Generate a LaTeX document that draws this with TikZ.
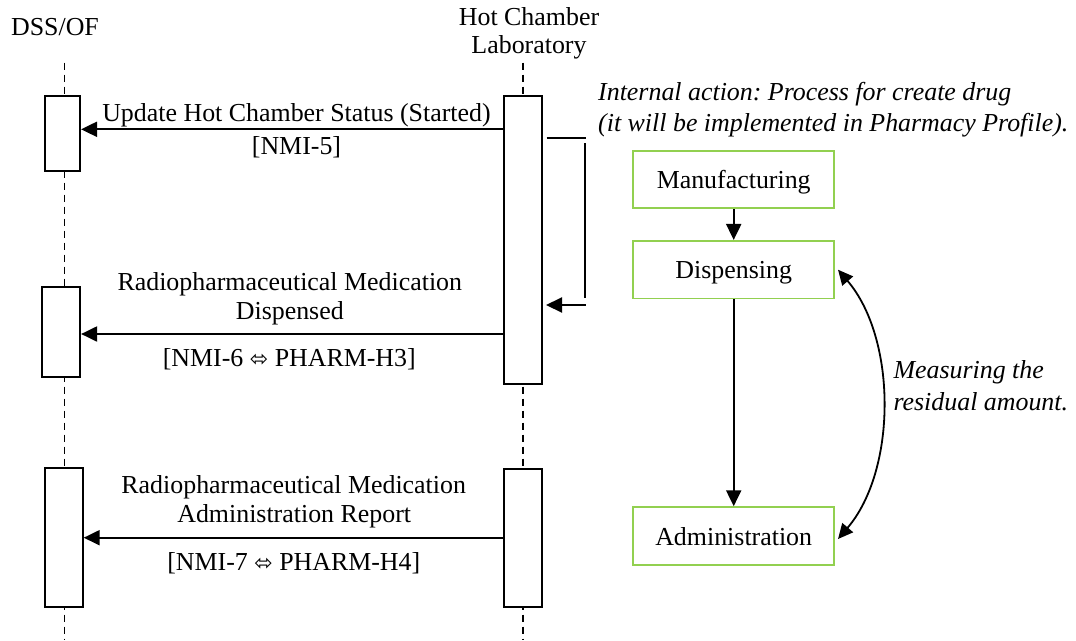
\documentclass[tikz,border=0pt]{standalone}
\usepackage{fontspec}
\setmainfont{Liberation Serif}
\newfontfamily\arrowfont{DejaVu Sans}
\usetikzlibrary{arrows.meta}
\definecolor{flowgreen}{RGB}{146,208,80}
\newcommand{\eqvarrow}{{\arrowfont\fontsize{22}{26}\selectfont ⬄}}
\frenchspacing
\begin{document}
\begin{tikzpicture}[x=1pt,y=-1pt,
  every node/.style={font=\fontsize{25.9}{30}\selectfont, inner sep=0pt},
  txt/.style={anchor=base},
  ntxt/.style={anchor=base west, font=\itshape\fontsize{25.9}{30}\selectfont},
  act/.style={draw, line width=2.1pt, fill=white},
  lifeline/.style={dash pattern=on 7pt off 5pt, line width=1.6pt},
  msg/.style={line width=2.1pt, -{Triangle[length=16pt,width=15pt]}},
  plain/.style={line width=2.1pt},
  flow/.style={draw=flowgreen, line width=1.9pt, minimum width=200.7pt,
    minimum height=57.6pt, text height=18pt, text depth=0pt}]
\useasboundingbox (0,0) rectangle (1076,640);

% lifelines (drawn first, the activation bars cover them)
\coordinate (lt) at (64.3,62.7);  \coordinate (lb) at (64.3,640);
\coordinate (rt) at (522.7,62.7); \coordinate (rb) at (522.7,640);
\draw[lifeline] (lt) -- (lb);
\draw[lifeline] (rt) -- (rb);

% participants
\node[txt] (dss) at (55,35) {DSS/OF};
\node[txt] (hcl1) at (529,25) {Hot Chamber};
\node[txt] (hcl2) at (529,53) {Laboratory};

% activation bars
\node[act, minimum width=35pt, minimum height=75pt]      (a1) at (62.5,133.5) {};
\node[act, minimum width=37.7pt, minimum height=90pt]    (a2) at (61.2,331.7) {};
\node[act, minimum width=37.7pt, minimum height=139.3pt] (a3) at (63.8,537.4) {};
\node[act, minimum width=37.7pt, minimum height=288.6pt] (b1) at (522.8,240) {};
\node[act, minimum width=37.7pt, minimum height=137.4pt] (b3) at (522.8,538) {};

% messages
\coordinate (m1) at (0,129.3);
\coordinate (m2) at (0,334);
\coordinate (m3) at (0,537.7);
\draw[msg] (b1.west |- m1) -- (a1.east |- m1);
\draw[msg] (b1.west |- m2) -- (a2.east |- m2);
\draw[msg] (b3.west |- m3) -- (a3.east |- m3);

\node[txt] (t1a) at (296.5,121) {Update Hot Chamber Status (Started)};
\node[txt] (t1b) at (296.5,154) {[NMI-5]};
\node[txt] (t2a) at (289.8,290) {Radiopharmaceutical Medication};
\node[txt] (t2b) at (289.8,319) {Dispensed};
\node[txt] (t2c) at (289.3,366) {[NMI-6 \eqvarrow{} PHARM-H3]};
\node[txt] (t3a) at (293.7,493.3) {Radiopharmaceutical Medication};
\node[txt] (t3b) at (294.2,522) {Administration Report};
\node[txt] (t3c) at (293.8,570) {[NMI-7 \eqvarrow{} PHARM-H4]};

% internal action (self message)
\coordinate (s1) at (546.7,137.7);
\coordinate (s2) at (585.7,137.7);
\coordinate (s3) at (585.2,143);
\coordinate (s4) at (585.2,298.3);
\coordinate (s5) at (585.7,305);
\coordinate (s6) at ([xshift=3.3pt]b1.east |- s5);
\draw[plain] (s1) -- (s2);
\draw[plain] (s3) -- (s4);
\draw[msg] (s5) -- (s6);

\node[ntxt] (in1) at (598,100.7) {Internal action: Process for create drug};
\node[ntxt] (in2) at (598,131) {(it will be implemented in Pharmacy Profile).};

% drug process
\node[flow] (man)  at (733.7,179.5) {Manufacturing};
\node[flow] (disp) at (733.7,269.7) {Dispensing};
\node[flow] (adm)  at (733.7,536) {Administration};
\draw[msg] (man) -- (disp);
\draw[msg] (disp) -- (adm);
\draw[line width=1.8pt, {Triangle[length=15pt,width=14pt]}-{Triangle[length=15pt,width=14pt]}]
  ([xshift=3pt]disp.east) .. controls +(59,69) and +(59,-69) .. ([xshift=3pt,yshift=-3pt]adm.east);
\node[ntxt] (me1) at (893.3,378.3) {Measuring the};
\node[ntxt] (me2) at (893.3,410.5) {residual amount.};
\end{tikzpicture}
\end{document}
